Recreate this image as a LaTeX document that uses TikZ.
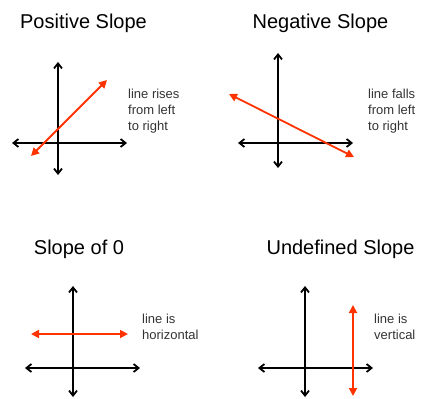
\documentclass[tikz,border=0pt]{standalone}
\usepackage{fontspec}
\setmainfont{Liberation Sans}
\usetikzlibrary{arrows.meta}
\definecolor{slopered}{RGB}{255,51,0}

\begin{document}
\begin{tikzpicture}[x=1pt,y=-1pt]
\tikzset{
  title/.style={font=\fontsize{20}{24}\selectfont,inner sep=0pt,anchor=base},
  note/.style={font=\fontsize{13}{16}\selectfont,text=black!80,align=left,anchor=north west,inner sep=0pt},
  axis/.style={{Straight Barb[length=5pt,width=8pt]}-{Straight Barb[length=5pt,width=8pt]},line width=1.8pt},
  slopeline/.style={{Triangle[length=8pt,width=8pt]}-{Triangle[length=8pt,width=8pt]},line width=1.8pt,draw=slopered}
}
\useasboundingbox (0,0) rectangle (422,398);
% positive slope
\node[title] (t_pos) at (83.5,29) {Positive Slope};
\coordinate (p1_xl) at (12,143);
\coordinate (p1_xr) at (127,143);
\coordinate (p1_yt) at (58,62);
\coordinate (p1_yb) at (58,175);
\coordinate (p1_a) at (31,156);
\coordinate (p1_b) at (107,80);
\draw[axis] (p1_xl) -- (p1_xr);
\draw[axis] (p1_yt) -- (p1_yb);
\draw[slopeline] (p1_a) -- (p1_b);
\node[note] (n_pos) at (128,89) {line rises\\from left\\to right};
% negative slope
\node[title] (t_neg) at (320.5,29) {Negative Slope};
\coordinate (p2_xl) at (238,143);
\coordinate (p2_xr) at (353,143);
\coordinate (p2_yt) at (278,53);
\coordinate (p2_yb) at (278,168);
\coordinate (p2_a) at (229,94);
\coordinate (p2_b) at (354,157);
\draw[axis] (p2_xl) -- (p2_xr);
\draw[axis] (p2_yt) -- (p2_yb);
\draw[slopeline] (p2_a) -- (p2_b);
\node[note] (n_neg) at (368,89) {line falls\\from left\\to right};
% slope of 0
\node[title] (t_zero) at (79,254) {Slope of 0};
\coordinate (p3_xl) at (25,368);
\coordinate (p3_xr) at (140,368);
\coordinate (p3_yt) at (73,286);
\coordinate (p3_yb) at (73,397);
\coordinate (p3_a) at (31,334);
\coordinate (p3_b) at (128,334);
\draw[axis] (p3_xl) -- (p3_xr);
\draw[axis] (p3_yt) -- (p3_yb);
\draw[slopeline] (p3_a) -- (p3_b);
\node[note] (n_zero) at (142,314) {line is\\horizontal};
% undefined slope
\node[title] (t_undef) at (340.5,254) {Undefined Slope};
\coordinate (p4_xl) at (258,368);
\coordinate (p4_xr) at (373,368);
\coordinate (p4_yt) at (305,286);
\coordinate (p4_yb) at (305,397);
\coordinate (p4_a) at (353,396);
\coordinate (p4_b) at (353,305);
\draw[axis] (p4_xl) -- (p4_xr);
\draw[axis] (p4_yt) -- (p4_yb);
\draw[slopeline] (p4_a) -- (p4_b);
\node[note] (n_undef) at (374,314) {line is\\vertical};
\end{tikzpicture}
\end{document}
